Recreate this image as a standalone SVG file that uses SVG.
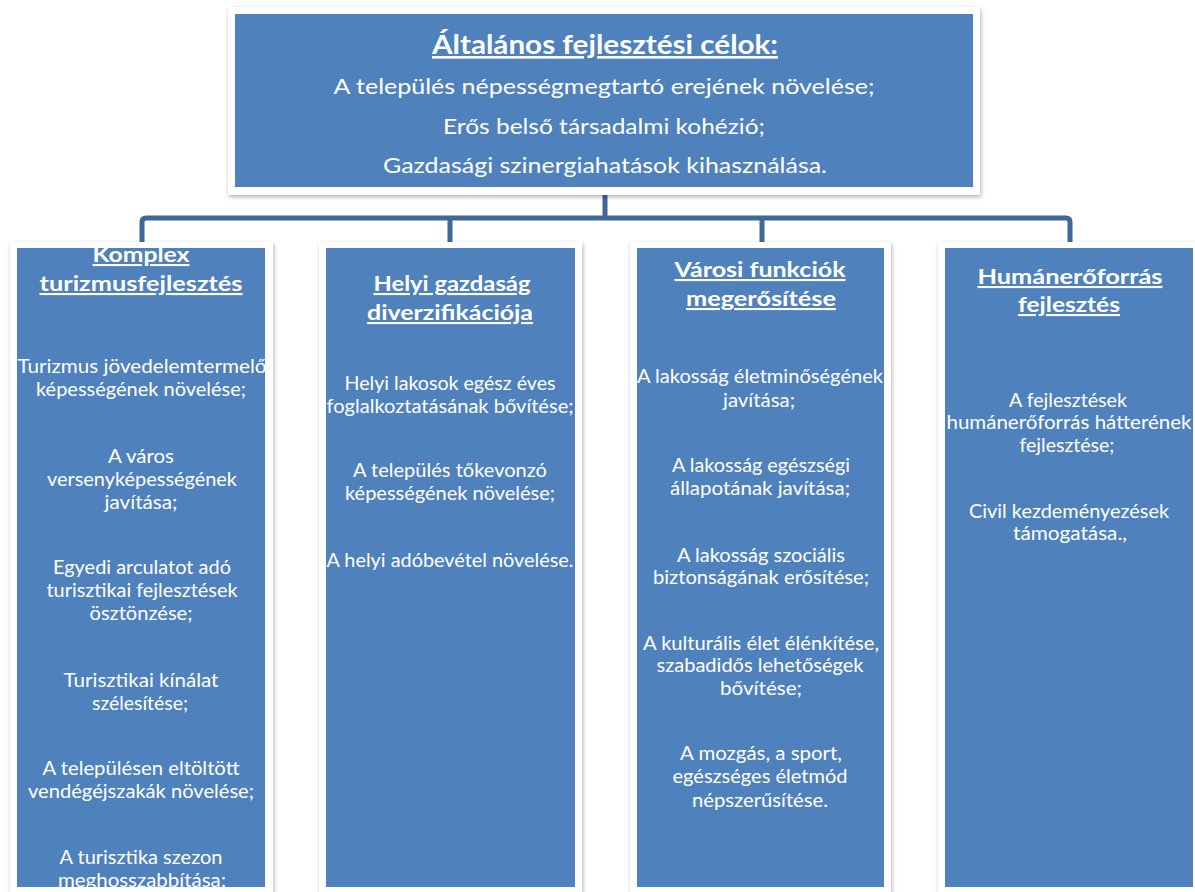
<svg xmlns="http://www.w3.org/2000/svg" width="1195" height="892" viewBox="0 0 1195 892">
<defs>
<style>
.frame{fill:#ffffff;filter:url(#sh);}
.blue{fill:#4F81BD;}
.conn{fill:none;stroke:#3F6797;stroke-width:5;stroke-linejoin:round;}
text{font-family:Lato,"Liberation Sans",sans-serif;fill:#ffffff;text-anchor:middle;}
.ttl{font-size:26px;font-weight:bold;text-decoration:underline;}
.top{font-size:22px;}
.hd{font-size:21px;font-weight:bold;text-decoration:underline;}
.bd{font-size:18.5px;}
</style>
<filter id="sh" x="-10%" y="-10%" width="120%" height="120%">
<feDropShadow dx="1" dy="2" stdDeviation="2" flood-color="#000000" flood-opacity="0.3"/>
</filter>
<clipPath id="c1"><rect x="17" y="248" width="248" height="639"/></clipPath>
<clipPath id="c2"><rect x="326" y="248" width="249" height="639"/></clipPath>
<clipPath id="c3"><rect x="637" y="248" width="247" height="639"/></clipPath>
<clipPath id="c4"><rect x="945" y="248" width="248" height="639"/></clipPath>
</defs>
<rect width="1195" height="892" fill="#ffffff"/>

<g id="connectors">
<path class="conn" d="M605,195 V218"/>
<path class="conn" d="M142,242 V222 Q142,218 146,218 H1066 Q1070,218 1070,222 V242"/>
<path class="conn" d="M450,218 V242"/>
<path class="conn" d="M762,218 V242"/>
</g>

<g id="top">
<rect class="frame" x="228" y="7" width="752" height="188"/>
<rect class="blue" x="235" y="14" width="738" height="173"/>
<text class="ttl" x="605" y="54" textLength="346" lengthAdjust="spacingAndGlyphs">Általános fejlesztési célok:</text>
<text class="top" x="604" y="94" textLength="541" lengthAdjust="spacingAndGlyphs">A település népességmegtartó erejének növelése;</text>
<text class="top" x="604" y="134" textLength="322" lengthAdjust="spacingAndGlyphs">Erős belső társadalmi kohézió;</text>
<text class="top" x="605" y="173" textLength="444" lengthAdjust="spacingAndGlyphs">Gazdasági szinergiahatások kihasználása.</text>
</g>

<g id="col1">
<rect class="frame" x="10" y="242" width="263" height="660"/>
<rect class="blue" x="17" y="248" width="248" height="639"/>
<g clip-path="url(#c1)">
<text class="hd" x="141" y="262" textLength="97" lengthAdjust="spacingAndGlyphs">Komplex</text>
<text class="hd" x="141" y="291" textLength="203" lengthAdjust="spacingAndGlyphs">turizmusfejlesztés</text>
<text class="bd" x="142" y="373" textLength="249" lengthAdjust="spacingAndGlyphs">Turizmus jövedelemtermelő</text>
<text class="bd" x="141" y="396" textLength="210" lengthAdjust="spacingAndGlyphs">képességének növelése;</text>
<text class="bd" x="141" y="463" textLength="66" lengthAdjust="spacingAndGlyphs">A város</text>
<text class="bd" x="142" y="486" textLength="190" lengthAdjust="spacingAndGlyphs">versenyképességének</text>
<text class="bd" x="141" y="509" textLength="73" lengthAdjust="spacingAndGlyphs">javítása;</text>
<text class="bd" x="142" y="574" textLength="178" lengthAdjust="spacingAndGlyphs">Egyedi arculatot adó</text>
<text class="bd" x="142" y="597" textLength="191" lengthAdjust="spacingAndGlyphs">turisztikai fejlesztések</text>
<text class="bd" x="141" y="620" textLength="103" lengthAdjust="spacingAndGlyphs">ösztönzése;</text>
<text class="bd" x="141" y="687" textLength="155" lengthAdjust="spacingAndGlyphs">Turisztikai kínálat</text>
<text class="bd" x="140" y="710" textLength="96" lengthAdjust="spacingAndGlyphs">szélesítése;</text>
<text class="bd" x="141" y="775" textLength="197" lengthAdjust="spacingAndGlyphs">A településen eltöltött</text>
<text class="bd" x="141" y="798" textLength="226" lengthAdjust="spacingAndGlyphs">vendégéjszakák növelése;</text>
<text class="bd" x="141" y="864" textLength="163" lengthAdjust="spacingAndGlyphs">A turisztika szezon</text>
<text class="bd" x="142" y="887" textLength="168" lengthAdjust="spacingAndGlyphs">meghosszabbítása;</text>
</g>
</g>

<g id="col2">
<rect class="frame" x="319" y="242" width="263" height="660"/>
<rect class="blue" x="326" y="248" width="249" height="639"/>
<g clip-path="url(#c2)">
<text class="hd" x="452" y="291" textLength="157" lengthAdjust="spacingAndGlyphs">Helyi gazdaság</text>
<text class="hd" x="450" y="320" textLength="166" lengthAdjust="spacingAndGlyphs">diverzifikációja</text>
<text class="bd" x="450" y="390" textLength="211" lengthAdjust="spacingAndGlyphs">Helyi lakosok egész éves</text>
<text class="bd" x="450" y="413" textLength="247" lengthAdjust="spacingAndGlyphs">foglalkoztatásának bővítése;</text>
<text class="bd" x="450" y="477" textLength="194" lengthAdjust="spacingAndGlyphs">A település tőkevonzó</text>
<text class="bd" x="450" y="500" textLength="210" lengthAdjust="spacingAndGlyphs">képességének növelése;</text>
<text class="bd" x="450" y="567" textLength="247" lengthAdjust="spacingAndGlyphs">A helyi adóbevétel növelése.</text>
</g>
</g>

<g id="col3">
<rect class="frame" x="630" y="242" width="261" height="660"/>
<rect class="blue" x="637" y="248" width="247" height="639"/>
<g clip-path="url(#c3)">
<text class="hd" x="760" y="277" textLength="171" lengthAdjust="spacingAndGlyphs">Városi funkciók</text>
<text class="hd" x="761" y="306" textLength="150" lengthAdjust="spacingAndGlyphs">megerősítése</text>
<text class="bd" x="760" y="383" textLength="246" lengthAdjust="spacingAndGlyphs">A lakosság életminőségének</text>
<text class="bd" x="759" y="407" textLength="72" lengthAdjust="spacingAndGlyphs">javítása;</text>
<text class="bd" x="761" y="472" textLength="178" lengthAdjust="spacingAndGlyphs">A lakosság egészségi</text>
<text class="bd" x="760" y="495" textLength="180" lengthAdjust="spacingAndGlyphs">állapotának javítása;</text>
<text class="bd" x="761" y="562" textLength="168" lengthAdjust="spacingAndGlyphs">A lakosság szociális</text>
<text class="bd" x="761" y="584" textLength="216" lengthAdjust="spacingAndGlyphs">biztonságának erősítése;</text>
<text class="bd" x="761" y="650" textLength="236" lengthAdjust="spacingAndGlyphs">A kulturális élet élénkítése,</text>
<text class="bd" x="760" y="672" textLength="207" lengthAdjust="spacingAndGlyphs">szabadidős lehetőségek</text>
<text class="bd" x="761" y="695" textLength="82" lengthAdjust="spacingAndGlyphs">bővítése;</text>
<text class="bd" x="761" y="760" textLength="162" lengthAdjust="spacingAndGlyphs">A mozgás, a sport,</text>
<text class="bd" x="760" y="783" textLength="175" lengthAdjust="spacingAndGlyphs">egészséges életmód</text>
<text class="bd" x="760" y="807" textLength="136" lengthAdjust="spacingAndGlyphs">népszerűsítése.</text>
</g>
</g>

<g id="col4">
<rect class="frame" x="938" y="242" width="265" height="660"/>
<rect class="blue" x="945" y="248" width="248" height="639"/>
<g clip-path="url(#c4)">
<text class="hd" x="1070" y="284" textLength="185" lengthAdjust="spacingAndGlyphs">Humánerőforrás</text>
<text class="hd" x="1069" y="312" textLength="102" lengthAdjust="spacingAndGlyphs">fejlesztés</text>
<text class="bd" x="1068" y="407" textLength="118" lengthAdjust="spacingAndGlyphs">A fejlesztések</text>
<text class="bd" x="1069" y="429" textLength="245" lengthAdjust="spacingAndGlyphs">humánerőforrás hátterének</text>
<text class="bd" x="1067" y="452" textLength="95" lengthAdjust="spacingAndGlyphs">fejlesztése;</text>
<text class="bd" x="1069" y="518" textLength="200" lengthAdjust="spacingAndGlyphs">Civil kezdeményezések</text>
<text class="bd" x="1070" y="540" textLength="114" lengthAdjust="spacingAndGlyphs">támogatása.,</text>
</g>
</g>
</svg>
